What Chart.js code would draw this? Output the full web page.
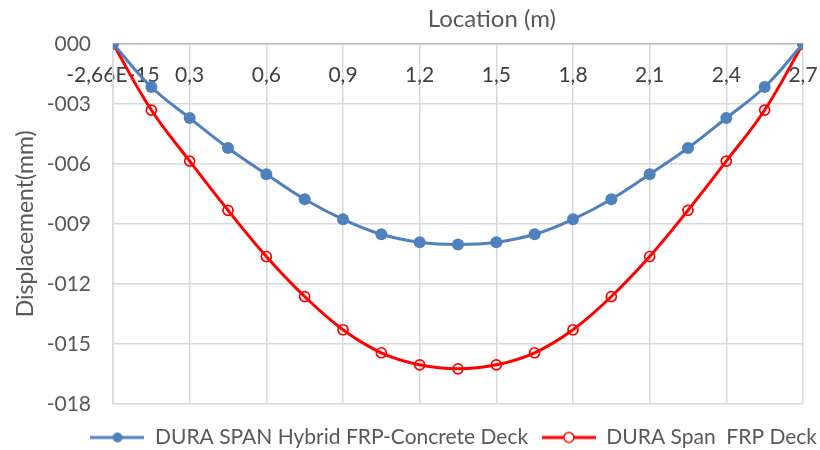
<!DOCTYPE html>
<html>
<head>
<meta charset="utf-8">
<script src="https://cdn.jsdelivr.net/npm/chart.js@4"></script>
<style>
  html, body { margin: 0; padding: 0; background: #fff; }
  #wrap { width: 820px; height: 450px; }
</style>
</head>
<body>
<div id="wrap"><canvas id="lineChart" width="820" height="450"></canvas></div>
<script>
// Data
const locations = [0, 0.15, 0.3, 0.45, 0.6, 0.75, 0.9, 1.05, 1.2, 1.35, 1.5, 1.65, 1.8, 1.95, 2.1, 2.25, 2.4, 2.55, 2.7];
const hybridDeck = [0, -2.16, -3.71, -5.21, -6.52, -7.77, -8.77, -9.52, -9.92, -10.03, -9.92, -9.52, -8.77, -7.77, -6.52, -5.21, -3.71, -2.16, 0];
const frpDeck = [0, -3.31, -5.86, -8.32, -10.63, -12.63, -14.29, -15.44, -16.04, -16.24, -16.04, -15.44, -14.29, -12.63, -10.63, -8.32, -5.86, -3.31, 0];
const xTickLabels = ["-2,66E-15", "0,3", "0,6", "0,9", "1,2", "1,5", "1,8", "2,1", "2,4", "2,7"];
const yTickLabels = ["-018", "-015", "-012", "-009", "-006", "-003", "000"];
const seriesNames = ["DURA SPAN Hybrid FRP-Concrete Deck", "DURA Span  FRP Deck"];

const BLUE = '#4F81BD';
const RED = '#FF0000';
const TEXT = '#595959';
const FONT = 'Lato, "Open Sans", sans-serif';

// small legend symbols: line with marker
function legendSymbol(color, filled) {
  const c = document.createElement('canvas');
  c.width = 54; c.height = 14;
  const g = c.getContext('2d');
  g.strokeStyle = color;
  g.lineWidth = 3;
  g.beginPath(); g.moveTo(0, 7); g.lineTo(54, 7); g.stroke();
  g.beginPath(); g.arc(27, 7, 5, 0, Math.PI * 2);
  if (filled) { g.fillStyle = color; g.fill(); }
  else { g.fillStyle = '#fff'; g.fill(); g.lineWidth = 1.5; g.stroke(); }
  return c;
}
const symbols = [legendSymbol(BLUE, true), legendSymbol(RED, false)];

function toPoints(values) {
  return values.map((v, i) => ({ x: locations[i], y: v }));
}

const ctx = document.getElementById('lineChart').getContext('2d');
new Chart(ctx, {
  type: 'line',
  data: {
    datasets: [{
      label: seriesNames[0],
      data: toPoints(hybridDeck),
      borderColor: BLUE,
      backgroundColor: BLUE,
      borderWidth: 3,
      pointRadius: 6,
      pointBorderWidth: 0,
      pointBackgroundColor: BLUE,
      tension: 0.4
    },
    {
      label: seriesNames[1],
      data: toPoints(frpDeck),
      borderColor: RED,
      backgroundColor: 'rgba(0,0,0,0)',
      borderWidth: 3,
      pointRadius: 5,
      pointBorderWidth: 1.7,
      pointBackgroundColor: 'rgba(0,0,0,0)',
      pointBorderColor: RED,
      tension: 0.4
    }]
  },
  options: {
    responsive: false,
    animation: false,
    layout: { padding: { left: 0, right: 0, top: 0, bottom: -8 } },
    plugins: {
      title: {
        display: true,
        text: '           Location (m)',
        fullSize: false,
        color: TEXT,
        font: { family: FONT, size: 24, weight: 'normal' },
        padding: { top: 5, bottom: 10 }
      },
      legend: {
        position: 'bottom',
        align: 'end',
        title: { display: true, text: ' ', font: { size: 10 }, padding: { top: 0, bottom: 8 } },
        labels: {
          usePointStyle: true,
          pointStyleWidth: 54,
          color: TEXT,
          font: { family: FONT, size: 21 },
          padding: 3,
          generateLabels: (chart) => {
            const items = Chart.defaults.plugins.legend.labels.generateLabels(chart);
            items.forEach((it, i) => {
              it.pointStyle = symbols[i];
              if (i === 0) it.text = it.text + '  ';
            });
            return items;
          }
        }
      },
      tooltip: { enabled: false }
    },
    scales: {
      x: {
        type: 'linear',
        position: { y: 0 },
        min: 0,
        max: 2.7,
        ticks: {
          stepSize: 0.3,
          color: '#404040',
          font: { family: FONT, size: 21 },
          padding: 19,
          maxRotation: 0,
          autoSkip: false,
          callback: (value, index) => xTickLabels[index]
        },
        grid: { color: '#D9D9D9', lineWidth: 1.5, drawTicks: false },
        border: { color: '#BFBFBF', width: 1.5 },
        afterFit: (scale) => { scale.paddingLeft = 0; scale.paddingRight = 17; }
      },
      y: {
        min: -18,
        max: 0,
        ticks: {
          stepSize: 3,
          color: TEXT,
          font: { family: FONT, size: 21 },
          padding: 22,
          callback: (value, index) => yTickLabels[index]
        },
        grid: { color: '#D9D9D9', lineWidth: 1.5, drawTicks: false },
        border: { color: '#D9D9D9', width: 1.5 },
        title: {
          display: true,
          text: 'Displacement(mm)',
          color: TEXT,
          font: { family: FONT, size: 23 },
          padding: { top: 12, bottom: 2 }
        },
        afterFit: (scale) => { scale.width = 113; }
      }
    }
  }
});
</script>
</body>
</html>
